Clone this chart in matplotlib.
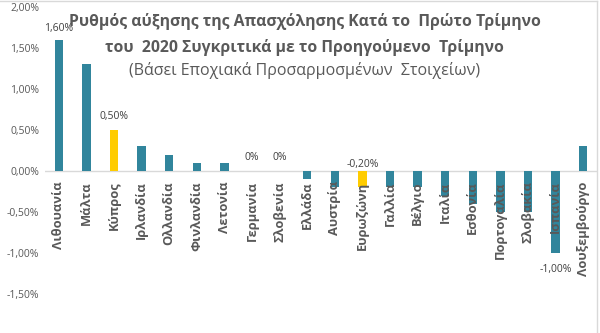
import matplotlib
matplotlib.use("Agg")
import matplotlib.pyplot as plt
from matplotlib.ticker import FuncFormatter

plt.rcParams["font.family"] = ["Open Sans", "DejaVu Sans"]

countries = [
    "Λιθουανία", "Μάλτα", "Κύπρος", "Ιρλανδία", "Ολλανδία", "Φινλανδία",
    "Λετονία", "Γερμανία", "Σλοβενία", "Ελλάδα", "Αυστρία", "Ευρωζώνη",
    "Γαλλία", "Βέλγιο", "Ιταλία", "Εσθονία", "Πορτογαλία", "Σλοβακία",
    "Ισπανία", "Λουξεμβούργο",
]
growth = [1.6, 1.3, 0.5, 0.3, 0.2, 0.1, 0.1, 0.0, 0.0, -0.1, -0.2, -0.2,
          -0.2, -0.2, -0.3, -0.4, -0.5, -0.5, -1.0, 0.3]
highlight = ["Κύπρος", "Ευρωζώνη"]
labelled = {"Λιθουανία": "1,60%", "Κύπρος": "0,50%", "Γερμανία": "0%",
            "Σλοβενία": "0%", "Ευρωζώνη": "-0,20%", "Ισπανία": "-1,00%"}
yticks = [2.0, 1.5, 1.0, 0.5, 0.0, -0.5, -1.0, -1.5]

TEAL = "#31859C"
YELLOW = "#FFCC00"
GREY = "#595959"

fig = plt.figure(figsize=(6.0, 3.33), dpi=100)
ax = fig.add_axes([45 / 600, 1 - 294 / 333, 552 / 600, 287 / 333])

x = list(range(len(countries)))
colors = [YELLOW if c in highlight else TEAL for c in countries]
ax.bar(x, growth, width=0.31, color=colors, zorder=2)

ax.set_xlim(-0.5, len(countries) - 0.5)
ax.set_ylim(-1.5, 2.0)
ax.set_yticks(yticks)
ax.yaxis.set_major_formatter(FuncFormatter(lambda v, _: f"{v:.2f}%".replace(".", ",")))
ax.tick_params(axis="y", length=0, labelsize=7.5, labelcolor=GREY, pad=4)
ax.set_xticks([])
for s in ax.spines.values():
    s.set_visible(False)
ax.axhline(0, color="#D9D9D9", linewidth=1, zorder=1)

# category labels drawn just below the zero line
for i, c in enumerate(countries):
    ax.annotate(c, (i, 0), xytext=(0, -7.5), textcoords="offset points",
                rotation=90, ha="center", va="top", fontsize=9.3,
                fontweight="bold", color=GREY, zorder=3)

# data labels
for i, c in enumerate(countries):
    if c not in labelled:
        continue
    v = growth[i]
    if c == "Λιθουανία":
        off, va = (0, 4), "bottom"
    elif c == "Ισπανία":
        off, va = (0, -8), "top"
    elif c == "Ευρωζώνη":
        off, va = (0, 1), "bottom"
        v = 0
    else:
        off, va = (0, 6), "bottom"
    ax.annotate(labelled[c], (i, v), xytext=off, textcoords="offset points",
                ha="center", va=va, fontsize=7.5, color="#404040", zorder=3)

fig.text(0.508, 0.935, "Ρυθμός αύξησης της Απασχόλησης Κατά το  Πρώτο Τρίμηνο",
         ha="center", va="center", fontsize=11.3, fontweight="bold", color=GREY)
fig.text(0.508, 0.858, "του  2020 Συγκριτικά με το Προηγούμενο  Τρίμηνο",
         ha="center", va="center", fontsize=11.3, fontweight="bold", color=GREY)
fig.text(0.508, 0.788, "(Βάσει Εποχιακά Προσαρμοσμένων  Στοιχείων)",
         ha="center", va="center", fontsize=11.5, color=GREY)

# chart border (top and right edges visible)
fig.add_artist(plt.Line2D([0, 597 / 600], [0.997, 0.997], color="#D9D9D9", lw=1))
fig.add_artist(plt.Line2D([597 / 600, 597 / 600], [0, 0.997], color="#D9D9D9", lw=1))

fig.savefig("out.png", dpi=100)
